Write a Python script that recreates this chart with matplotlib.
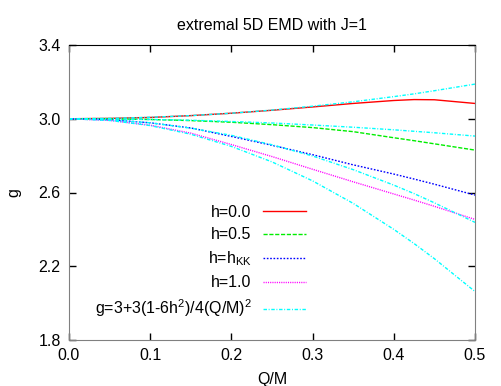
import matplotlib
matplotlib.use("Agg")
from matplotlib import pyplot as plt

plt.rcParams['font.family'] = ['Liberation Sans', 'DejaVu Sans']
plt.rcParams['mathtext.default'] = 'regular'

# Q/M sample points
qm = [0.0, 0.05, 0.1, 0.15, 0.2, 0.25, 0.3, 0.35, 0.4, 0.425, 0.45, 0.5]

# numerical curves
g_h00 = [3.000, 3.002, 3.007, 3.017, 3.030, 3.046, 3.064, 3.083, 3.099, 3.104, 3.103, 3.083]
g_h05 = [3.000, 2.999, 2.996, 2.990, 2.981, 2.968, 2.952, 2.930, 2.897, 2.881, 2.864, 2.830]
g_hkk = [3.000, 2.995, 2.978, 2.950, 2.904, 2.856, 2.805, 2.750, 2.700, 2.673, 2.645, 2.586]
g_h10 = [3.000, 2.991, 2.965, 2.922, 2.860, 2.795, 2.726, 2.658, 2.592, 2.559, 2.525, 2.454]

# small Q/M approximation, one curve per h
appr_h00 = [3.000, 3.002, 3.008, 3.017, 3.030, 3.047, 3.068, 3.092, 3.120, 3.135, 3.152, 3.188]
appr_h05 = [3.000, 2.999, 2.996, 2.992, 2.985, 2.977, 2.966, 2.954, 2.940, 2.932, 2.924, 2.906]
appr_hkk = [3.000, 2.994, 2.978, 2.949, 2.910, 2.859, 2.798, 2.724, 2.640, 2.594, 2.544, 2.438]
appr_h10 = [3.000, 2.991, 2.963, 2.916, 2.850, 2.766, 2.663, 2.541, 2.400, 2.323, 2.241, 2.063]

labels = ['h=0.0', 'h=0.5', 'h=h$_{KK}$', 'h=1.0', 'g=3+3(1-6h$^2$)/4(Q/M)$^2$']
xticks = [0.0, 0.1, 0.2, 0.3, 0.4, 0.5]
yticks = [1.8, 2.2, 2.6, 3.0, 3.4]

fs = 11.5
fig = plt.figure(figsize=(5.01, 3.86), dpi=100)
ax = fig.add_axes([69/501, 1-340/386, (475-69)/501, (340-45)/386])

lw = 1.0
l1, = ax.plot(qm, g_h00, color='#ff0000', lw=lw, label=labels[0])
l2, = ax.plot(qm, g_h05, color='#00ee00', lw=lw, dashes=(3, 1.2), label=labels[1])
l3, = ax.plot(qm, g_hkk, color='#0000ff', lw=lw, dashes=(1.2, 1.2), label=labels[2])
l4, = ax.plot(qm, g_h10, color='#ff00ff', lw=lw, dashes=(0.8, 0.8), label=labels[3])
cy = dict(color='#00ffff', lw=lw, dashes=(2.5, 1.2, 0.7, 1.2))
l5, = ax.plot(qm, appr_h00, label=labels[4], **cy)
ax.plot(qm, appr_h05, **cy)
ax.plot(qm, appr_hkk, **cy)
ax.plot(qm, appr_h10, **cy)

ax.set_xlim(0, 0.5)
ax.set_ylim(1.8, 3.4)
ax.set_xticks(xticks)
ax.set_xticklabels(['%.1f' % v for v in xticks])
ax.set_yticks(yticks)
ax.set_yticklabels(['%.1f' % v for v in yticks])
ax.tick_params(direction='in', length=5, width=1, labelsize=fs,
               top=True, right=True, pad=6)
for s in ['left', 'bottom', 'right']:
    ax.spines[s].set_color('#808080')
ax.spines['top'].set_color('black')

ax.set_title('extremal 5D EMD with J=1', fontsize=fs, pad=11)
ax.set_xlabel('Q/M', fontsize=fs, labelpad=6)
ax.set_ylabel('g', fontsize=fs, labelpad=12)

ax.legend(handles=[l1, l2, l3, l4, l5], loc='upper right', frameon=False,
          markerfirst=False, fontsize=fs, handlelength=2.7, handletextpad=0.7,
          labelspacing=0.45, borderpad=0, borderaxespad=0,
          bbox_to_anchor=(306/501, 1-205/386), bbox_transform=fig.transFigure)

fig.savefig('out.png', dpi=100)
